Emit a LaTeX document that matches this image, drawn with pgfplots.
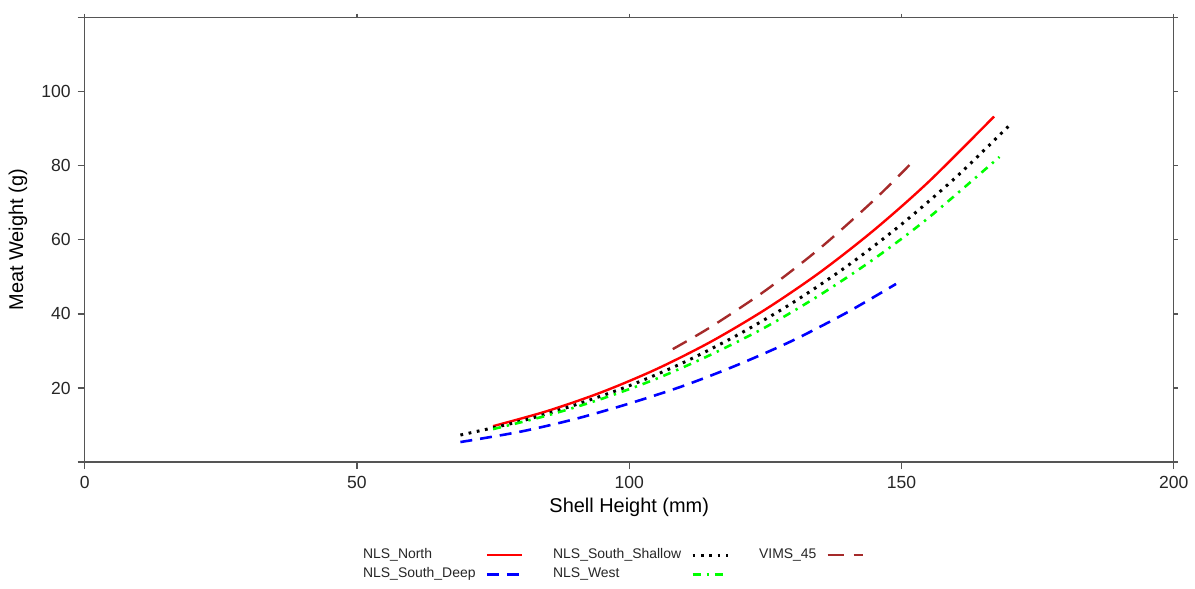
\documentclass[border=0pt]{standalone}
\usepackage{pgfplots}
\pgfplotsset{compat=1.18}
\usepackage{fontspec}
\setmainfont{Liberation Sans}

\definecolor{rbrown}{HTML}{A52A2A}
\definecolor{axgray}{HTML}{555555}

\begin{document}
\begin{tikzpicture}
% frame that fixes the page size (1195x583 px at 0.5pt per px)
\path (-42.5pt,-60.5pt) rectangle (555pt,231pt);

\begin{axis}[
  scale only axis, width=546.5pt, height=223pt,
  xmin=0, xmax=200, ymin=0, ymax=120,
  axis line style={axgray, line width=0.6pt},
  every tick/.style={axgray, line width=0.6pt},
  tick align=outside, major tick length=3.5pt,
  xtick={0,50,100,150,200}, ytick={0,20,40,60,80,100,120},
  yticklabels={,20,40,60,80,100,},
  xtick pos=bottom, ytick pos=left,
  /pgf/number format/assume math mode=true,
  ticklabel style={font=\fontsize{8.8}{10}\selectfont, text=black!85},
  xlabel={Shell Height (mm)}, ylabel={Meat Weight (g)},
  label style={font=\fontsize{8.8}{10}\selectfont, text=black!85},
  every axis x label/.style={at={(axis description cs:0.5,-0.103)}, anchor=center},
  every axis y label/.style={at={(axis description cs:-0.0613,0.5)}, anchor=center, rotate=90},
  legend columns=3,
  legend plot pos=right,
  legend style={draw=none, at={(axis description cs:0.4838,-0.231)}, anchor=center,
    font=\fontsize{7}{8}\selectfont, text=black!85,
    row sep=-1pt,
    /tikz/every even column/.append style={column sep=13pt},
    /tikz/every odd column/.append style={column sep=3pt},
    cells={anchor=west}},
  legend image code/.code={\draw[#1] (0cm,0cm) -- (0.62cm,0cm);},
]
\addplot[red, smooth, line width=1.2pt] coordinates {
 (75,9.7) (85,13.8) (95,18.9) (105,25.1) (115,32.5) (125,41.2) (135,51.2) (145,62.7) (155,75.7) (167,93.3)};
\addlegendentry{NLS\_North}
\addplot[black, smooth, line width=1.5pt, dash pattern=on 1.4pt off 2.8pt] coordinates {
 (69,7.3) (80,11.0) (90,15.4) (100,20.6) (110,26.9) (120,34.4) (130,43.0) (140,52.9) (150,64.2) (160,76.9) (170,91.2)};
\addlegendentry{NLS\_South\_Shallow}
\addplot[rbrown, smooth, line width=1.2pt, dash pattern=on 8pt off 5pt] coordinates {
 (108,30.5) (115,36.5) (125,46.3) (135,57.7) (145,70.8) (152,81.0)};
\addlegendentry{VIMS\_45}
\addplot[blue, smooth, line width=1.3pt, dash pattern=on 6pt off 4pt] coordinates {
 (69,5.4) (80,8.2) (90,11.6) (100,15.8) (110,20.6) (120,26.3) (130,32.8) (140,40.4) (149,48.1)};
\addlegendentry{NLS\_South\_Deep}
\addplot[green, smooth, line width=1.3pt, dash pattern=on 4pt off 3pt on 1.2pt off 3pt] coordinates {
 (75,8.9) (85,12.6) (95,17.1) (105,22.5) (115,29.0) (125,36.4) (135,45.1) (145,54.9) (155,66.0) (168,82.4)};
\addlegendentry{NLS\_West}
\end{axis}

% top and right ticks, shorter
\begin{axis}[
  scale only axis, width=546.5pt, height=223pt,
  xmin=0, xmax=200, ymin=0, ymax=120,
  axis line style={draw=none},
  every tick/.style={axgray, line width=0.6pt},
  tick align=outside, major tick length=2pt,
  xtick={0,50,100,150,200}, ytick={0,20,40,60,80,100,120},
  xticklabels={}, yticklabels={},
  xtick pos=top, ytick pos=right,
]
\end{axis}
\end{tikzpicture}
\end{document}
